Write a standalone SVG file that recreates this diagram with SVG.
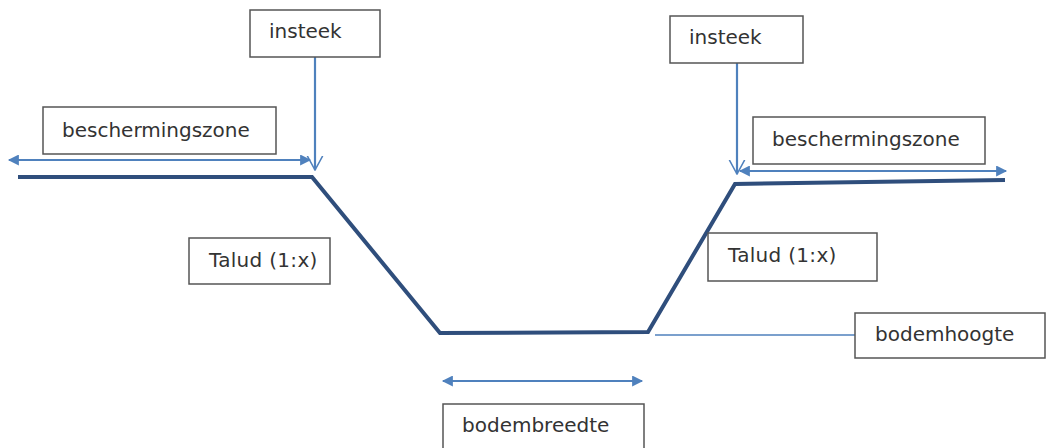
<svg xmlns="http://www.w3.org/2000/svg" width="1046" height="448" viewBox="0 0 1046 448">
<defs>
<style>
.box{fill:#fff;stroke:#555;stroke-width:1.5}
.t{font-family:"DejaVu Sans",Verdana,sans-serif;font-size:20px;fill:#333}
.prof{fill:none;stroke:#2F4E7C;stroke-width:4;stroke-linejoin:miter}
.arr{fill:none;stroke:#4F81BD;stroke-width:2.2}
.thin{fill:none;stroke:#4F81BD;stroke-width:1.5}
</style>
<marker id="tri" viewBox="0 0 10 10" refX="9" refY="5" markerWidth="5.5" markerHeight="5" orient="auto-start-reverse" markerUnits="strokeWidth">
<path d="M0,0 L10,5 L0,10 z" fill="#4F81BD"/>
</marker>
<marker id="vee" viewBox="0 0 12 12" refX="11" refY="6" markerWidth="7" markerHeight="8" orient="auto" markerUnits="strokeWidth">
<path d="M0,0 L11,6 L0,12" fill="none" stroke="#4F81BD" stroke-width="1.2"/>
</marker>
</defs>
<rect width="1046" height="448" fill="#fff"/>
<g id="connectors">
<path class="prof" d="M18,177 L312,177 L440,333 L648,332 L735,184 L1005,180"/>
<line class="arr" x1="315" y1="57" x2="315" y2="170" marker-end="url(#vee)"/>
<line class="arr" x1="737" y1="63" x2="737" y2="174" marker-end="url(#vee)"/>
<line class="arr" x1="9" y1="160" x2="310" y2="160" marker-start="url(#tri)" marker-end="url(#tri)"/>
<line class="arr" x1="740" y1="171" x2="1006" y2="171" marker-start="url(#tri)" marker-end="url(#tri)"/>
<line class="arr" x1="443" y1="381" x2="642" y2="381" marker-start="url(#tri)" marker-end="url(#tri)"/>
<line class="thin" x1="655" y1="335" x2="855" y2="335"/>
</g>
<g id="insteek-left"><rect class="box" x="250" y="10" width="130" height="47"/><text class="t" x="269" y="38">insteek</text></g>
<g id="insteek-right"><rect class="box" x="670" y="16" width="133" height="47"/><text class="t" x="689" y="44">insteek</text></g>
<g id="bescherming-left"><rect class="box" x="43" y="107" width="233" height="47"/><text class="t" x="62" y="137">beschermingszone</text></g>
<g id="bescherming-right"><rect class="box" x="753" y="117" width="232" height="47"/><text class="t" x="772" y="146">beschermingszone</text></g>
<g id="talud-left"><rect class="box" x="189" y="238" width="141" height="46"/><text class="t" x="209" y="267" letter-spacing="0.3">Talud (1:x)</text></g>
<g id="talud-right"><rect class="box" x="708" y="233" width="169" height="48"/><text class="t" x="728" y="262" letter-spacing="0.3">Talud (1:x)</text></g>
<g id="bodemhoogte"><rect class="box" x="855" y="313" width="190" height="45"/><text class="t" x="875" y="341">bodemhoogte</text></g>
<g id="bodembreedte"><rect class="box" x="443" y="404" width="201" height="50"/><text class="t" x="462" y="432">bodembreedte</text></g>
</svg>
